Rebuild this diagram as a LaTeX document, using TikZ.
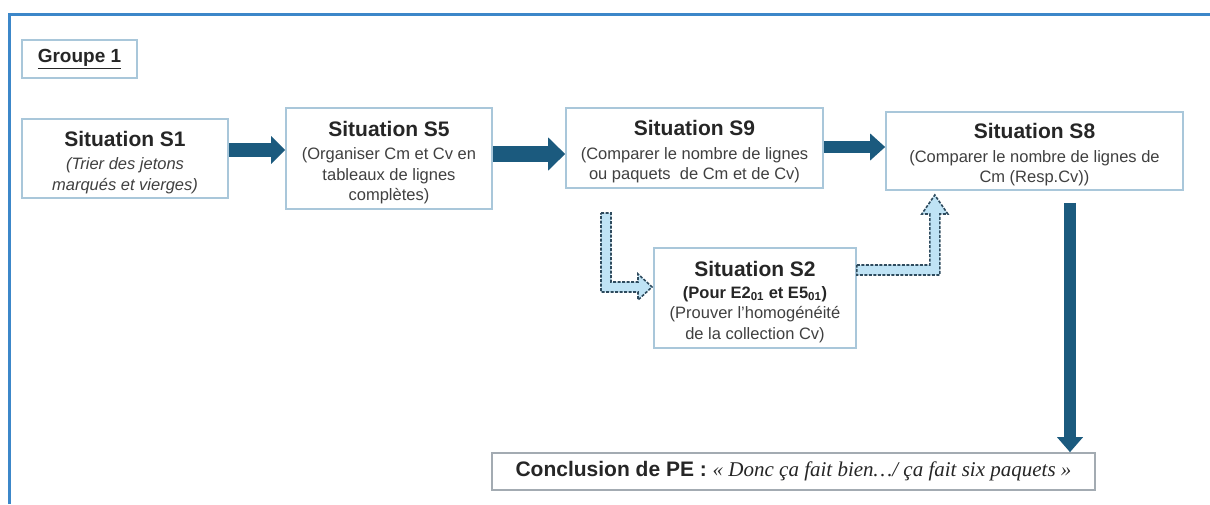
\documentclass[tikz,border=0pt]{standalone}
\usepackage{fontspec}
\setmainfont{Liberation Sans}
\newfontfamily\serifit{Liberation Serif}
\usetikzlibrary{arrows.meta,calc}
\definecolor{framecol}{HTML}{3C87C9}
\definecolor{boxcol}{HTML}{A9C7DA}
\definecolor{darkarr}{HTML}{1B5A7E}
\definecolor{lightarr}{HTML}{BFE3F5}
\definecolor{dashcol}{HTML}{2E4B5E}
\definecolor{titlecol}{HTML}{262626}
\definecolor{subcol}{HTML}{404040}
\definecolor{conccol}{HTML}{A3ABB2}
\newcommand{\sttl}[1]{{\fontsize{21}{24}\selectfont\bfseries\color{titlecol}\rule{0pt}{23pt}#1}}
\begin{document}
\begin{tikzpicture}[x=1pt,y=-1pt,
  sbox/.style={draw=boxcol, line width=1.6pt, fill=white, align=center, inner sep=0pt,
    text=subcol, font=\fontsize{16.5}{20.5}\selectfont},
  bigarrow/.style={draw=darkarr, line width=#1},
  hollow/.style={draw=dashcol, fill=lightarr, line width=1.6pt, dash pattern=on 3pt off 1.5pt, line join=miter}
]
\useasboundingbox (0,0) rectangle (1210,504);
% frame
\draw[framecol, line width=3pt] (9.5,504) -- (9.5,14.5) -- (1210,14.5);

% group label
\node[sbox, minimum width=115pt, minimum height=38pt, text=titlecol,
  font=\fontsize{19}{22}\selectfont\bfseries] (grp) at (79.5,59) {\underline{Groupe 1}};

% boxes
\node[sbox, minimum width=206pt, minimum height=79pt] (s1) at (125,158.5)
  {\sttl{Situation S1}\\[3pt]\itshape (Trier des jetons\\\itshape marqués et vierges)};
\node[sbox, minimum width=206pt, minimum height=101pt] (s5) at (389,158.5)
  {\sttl{Situation S5}\\[3pt](Organiser Cm et Cv en\\tableaux de lignes\\complètes)};
\node[sbox, minimum width=257pt, minimum height=80pt] (s9) at (694.5,148)
  {\sttl{Situation S9}\\[3pt](Comparer le nombre de lignes\\ou paquets\ \ de Cm et de Cv)};
\node[sbox, minimum width=297pt, minimum height=78pt] (s8) at (1034.5,151)
  {\sttl{Situation S8}\\[3pt](Comparer le nombre de lignes de\\Cm (Resp.Cv))};
\node[sbox, minimum width=202pt, minimum height=100pt] (s2) at (755,298)
  {\sttl{Situation S2}\\[1pt]{\bfseries\color{titlecol}(Pour E2\textsubscript{01} et E5\textsubscript{01})}\\(Prouver l'homogénéité\\de la collection Cv)};
\node[sbox, draw=conccol, minimum width=603pt, minimum height=37pt, text=titlecol,
  font=\fontsize{21}{24}\selectfont] (conc) at (793.5,471.5)
  {{\bfseries Conclusion de PE :} {\serifit\itshape « Donc ça fait bien…/ ça fait six paquets »}};

% dark arrows
\draw[bigarrow=14pt, -{Triangle[length=14pt,width=27pt]}]
  ($(s1.east)+(0,-8.5)$) -- ($(s5.west)+(0,-8.5)$);
\draw[bigarrow=16pt, -{Triangle[length=17pt,width=32pt]}]
  ($(s5.east)+(0,-4.5)$) -- ($(s9.west)+(0,6)$);
\draw[bigarrow=12pt, -{Triangle[length=15pt,width=26pt]}]
  ($(s9.east)+(0,-1)$) -- ($(s8.west)+(0,-4)$);
\coordinate (d8) at ($(s8.south)+(35.5,12)$);
\draw[bigarrow=12pt, -{Triangle[length=15pt,width=25pt]}]
  (d8) -- (d8 |- conc.north);

% dashed hollow arrows
\coordinate (d1) at (601,213);
\draw[hollow] (d1) -- ++(10,0) -- ++(0,69) -- ++(27,0) -- ++(0,-8) -- ++(14,13)
  -- ++(-14,13) -- ++(0,-8) -- ++(-37,0) -- cycle;
\draw[hollow] ($(s2.east)+(0,-33)$) -- ++(73,0) -- ++(0,-51) -- ++(-8,0) -- ++(13,-19)
  -- ++(13,19) -- ++(-8,0) -- ++(0,61) -- ++(-83,0) -- cycle;
\end{tikzpicture}
\end{document}
